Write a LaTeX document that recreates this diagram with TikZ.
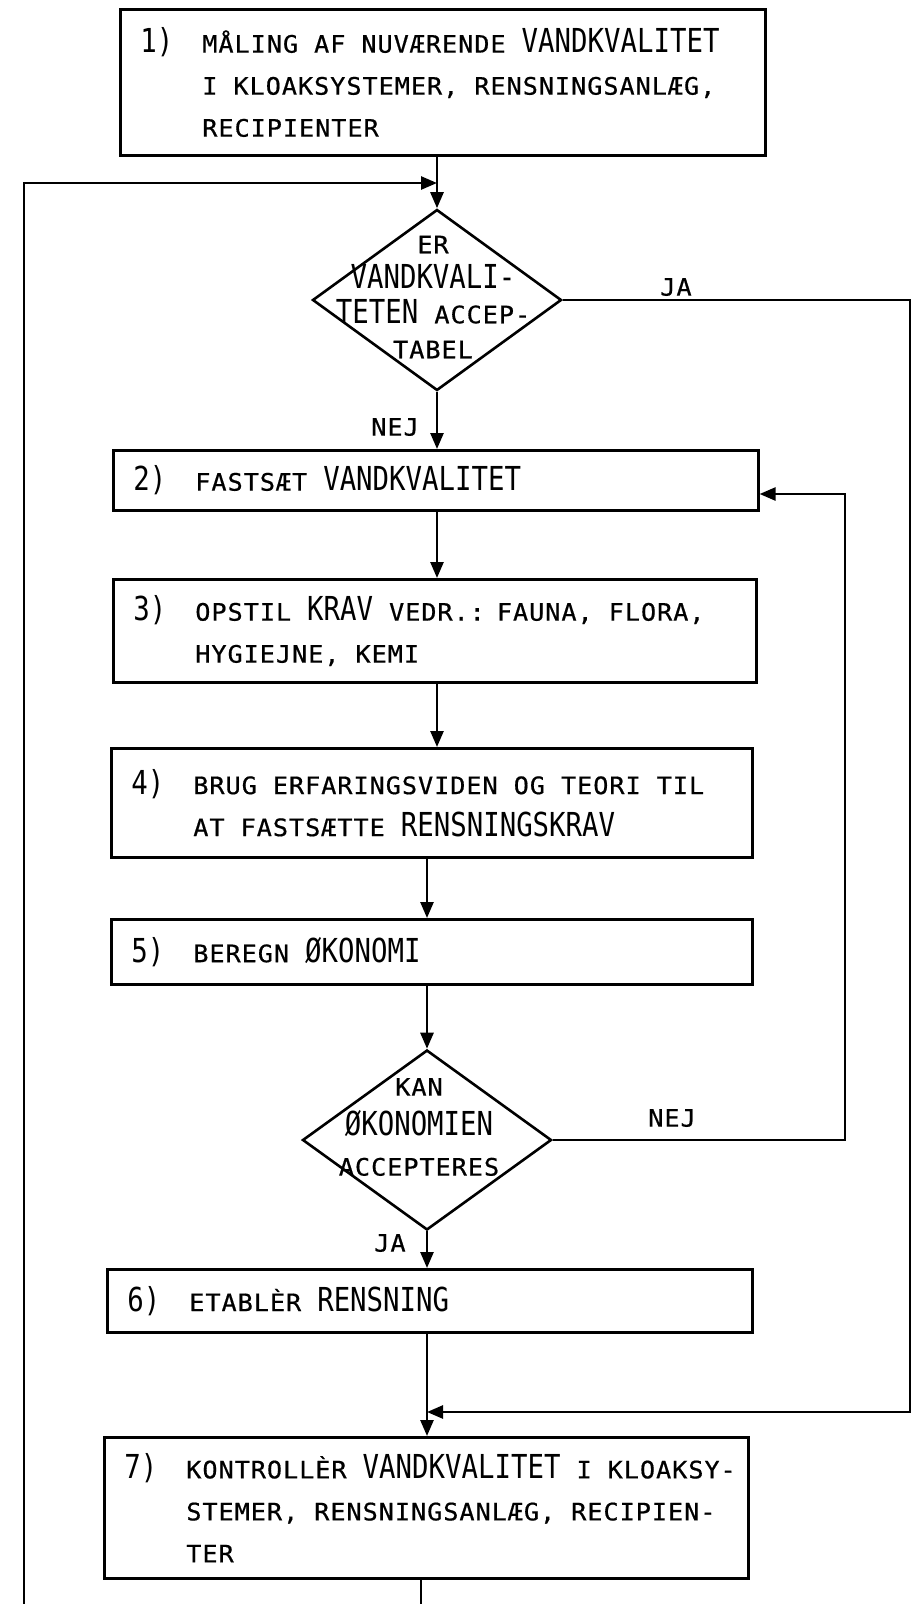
\documentclass[tikz,border=0pt]{standalone}
\usepackage{fontspec}
\usepackage{tikz}
\usetikzlibrary{shapes.geometric,arrows.meta}
\newfontfamily\smallface[FakeStretch=1.05,LetterSpace=4,FakeBold=0.6]{DejaVu Sans Mono}
\newfontfamily\largeface[FakeStretch=0.83]{DejaVu Sans Mono}
\newcommand{\bigword}[1]{{\largeface\fontsize{33}{42}\selectfont #1}}
\newcommand{\row}[1]{\mbox{\spaceskip=16pt\relax #1}}
\newcommand{\nr}[1]{\makebox[62pt][l]{\bigword{#1}}}
\newcommand{\ind}{\hspace*{62pt}}
\tikzset{
    stepbox/.style={draw, rectangle, line width=2.6pt, anchor=north west, inner xsep=20pt, inner ysep=0pt, align=left, font=\smallface\fontsize{24}{42}\selectfont},
    decision/.style={draw, diamond, line width=2.6pt, inner sep=0pt},
    arr/.style={->, >={Triangle[length=16pt,width=13pt]}, line width=2.6pt},
    tag/.style={font=\smallface\fontsize{24}{42}\selectfont}
}
\begin{document}
\begin{tikzpicture}[x=1pt, y=-1pt]
        \useasboundingbox (0,0) rectangle (913,1604);

        % --- Steps ---
        \node [stepbox, text width=605pt, minimum height=146pt] (m1) at (119,8)
            {\row{\nr{1)}MÅLING AF NUVÆRENDE \bigword{VANDKVALITET}}\\
             \row{\ind I KLOAKSYSTEMER, RENSNINGSANLÆG,}\\
             \row{\ind RECIPIENTER}};
        \node [stepbox, text width=605pt, minimum height=60pt] (m2) at (112,449)
            {\row{\nr{2)}FASTSÆT \bigword{VANDKVALITET}}};
        \node [stepbox, text width=603pt, minimum height=103pt] (m3) at (112,578)
            {\row{\nr{3)}OPSTIL \bigword{KRAV} VEDR.: FAUNA, FLORA,}\\
             \row{\ind HYGIEJNE, KEMI}};
        \node [stepbox, text width=601pt, minimum height=109pt] (m4) at (110,747)
            {\row{\nr{4)}BRUG ERFARINGSVIDEN OG TEORI TIL}\\
             \row{\ind AT FASTSÆTTE \bigword{RENSNINGSKRAV}}};
        \node [stepbox, text width=601pt, minimum height=65pt] (m5) at (110,918)
            {\row{\nr{5)}BEREGN \bigword{ØKONOMI}}};
        \node [stepbox, text width=605pt, minimum height=63pt] (m6) at (106,1268)
            {\row{\nr{6)}ETABLÈR \bigword{RENSNING}}};
        \node [stepbox, text width=604pt, minimum height=141pt] (m7) at (103,1436)
            {\row{\nr{7)}KONTROLLÈR \bigword{VANDKVALITET} I KLOAKSY-}\\
             \row{\ind STEMER, RENSNINGSANLÆG, RECIPIEN-}\\
             \row{\ind TER}};

        % --- Decisions ---
        \node [decision, minimum width=249pt, minimum height=181pt] (d1) at (437,300) {};
        \node [align=center, inner sep=0pt, font=\smallface\fontsize{24}{35}\selectfont] (q1) at (433,297)
            {ER\\ \bigword{VANDKVALI-}\\ \bigword{TETEN} ACCEP-\\ TABEL};
        \node [decision, minimum width=249pt, minimum height=180pt] (d2) at (427,1140) {};
        \node [align=center, inner sep=0pt, font=\smallface\fontsize{24}{40}\selectfont] (q2) at (419,1127)
            {KAN\\ \bigword{ØKONOMIEN}\\ ACCEPTERES};

        % --- Labels ---
        \node [tag] (ja1) at (676,287) {JA};
        \node [tag] (nej1) at (395,427) {NEJ};
        \node [tag] (nej2) at (672,1118) {NEJ};
        \node [tag] (ja2) at (390,1243) {JA};

        \coordinate (lbot) at (24,1604);
        \coordinate (in1) at (437,183);
        \coordinate (rgt) at (910,1412);
        \coordinate (fbk) at (845,494);
        \coordinate (out7) at (421,1604);

        % --- Main Flow ---
        \draw [arr] (m1.south -| d1) -- (d1.north);
        \draw [arr] (d1.south) -- (d1.south |- m2.north);
        \draw [arr] (m2.south -| d1) -- (m3.north -| d1);
        \draw [arr] (m3.south -| d1) -- (m4.north -| d1);
        \draw [arr] (m4.south -| d2) -- (m5.north -| d2);
        \draw [arr] (m5.south -| d2) -- (d2.north);
        \draw [arr] (d2.south) -- (d2.south |- m6.north);
        \draw [arr] (m6.south -| d2) -- (m7.north -| d2);
        \draw [line width=2.6pt] (m7.south -| out7) -- (out7);

        % --- Loops ---
        \draw [arr] (lbot) |- (in1);
        \draw [arr] (d1.east) -| (rgt) -- (rgt -| d2);
        \draw [arr] (d2.east) -| (fbk) -- (fbk -| m2.east);

    \end{tikzpicture}
\end{document}
